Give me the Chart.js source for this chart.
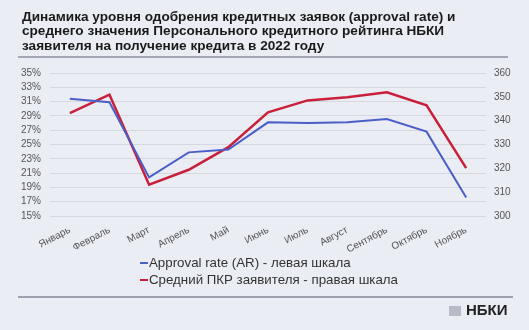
<!DOCTYPE html>
<html><head><meta charset="utf-8">
<script src="https://cdn.jsdelivr.net/npm/chart.js@4/dist/chart.umd.min.js"></script>
<style>
html,body{margin:0;padding:0;background:#ebedf5;}
#wrap{position:relative;width:529px;height:330px;overflow:hidden;background:#ebedf5;font-family:"Liberation Sans",Arial,sans-serif;}
#title{position:absolute;left:22px;top:10px;font-weight:bold;font-size:13.6px;line-height:14.3px;color:#1a1a1a;white-space:nowrap;}
#line1{position:absolute;left:18px;top:56px;width:490px;height:2px;background:#a3a7b3;}
#line2{position:absolute;left:18px;top:296px;width:495px;height:2px;background:#9da1ad;}
#c{position:absolute;left:0;top:0;}
.leg{position:absolute;left:140px;font-size:13.3px;color:#333;white-space:nowrap;}
.leg span{display:inline-block;width:8px;height:2px;vertical-align:middle;margin-right:1px;}
#logo{position:absolute;left:449px;top:301px;font-weight:bold;font-size:15px;color:#222;}
#logo i{display:inline-block;width:12px;height:10px;background:#b9bcc6;margin-right:5px;vertical-align:-1px;}
</style></head>
<body><div id="wrap">
<canvas id="c" width="529" height="330"></canvas>
<div id="title">Динамика уровня одобрения кредитных заявок (approval rate) и<br>среднего значения Персонального кредитного рейтинга НБКИ<br>заявителя на получение кредита в 2022 году</div>
<div id="line1"></div>
<div class="leg" style="top:255px"><span style="background:#4a5ec8"></span>Approval rate (AR) - левая шкала</div>
<div class="leg" style="top:272px"><span style="background:#c8203a"></span>Средний ПКР заявителя - правая шкала</div>
<div id="line2"></div>
<div id="logo"><i></i>НБКИ</div>
</div>
<script>
const months = ["Январь","Февраль","Март","Апрель","Май","Июнь","Июль","Август","Сентябрь","Октябрь","Ноябрь"];
const approvalRate = [31.4, 30.9, 20.4, 23.9, 24.3, 28.1, 28.0, 28.1, 28.55, 26.8, 17.6];
const avgScore = [343.2, 350.9, 313.1, 319.4, 328.9, 343.5, 348.5, 349.8, 351.9, 346.4, 320.1];
const leftTicks = {min:15, max:35, step:2};
const rightTicks = {min:300, max:360, step:10};

const tickFont = {family:"Liberation Sans", size:10};
new Chart(document.getElementById('c'), {
  type:'line',
  data:{labels:months, datasets:[
    {label:'Approval rate (AR) - левая шкала', data:approvalRate, yAxisID:'y', borderColor:'#4a5ec8', borderWidth:2, pointRadius:0, tension:0},
    {label:'Средний ПКР заявителя - правая шкала', data:avgScore, yAxisID:'y1', borderColor:'#c8203a', borderWidth:2.5, pointRadius:0, tension:0}
  ]},
  options:{
    responsive:false, animation:false,
    layout:{padding:{top:73, left:0, right:0, bottom:0}},
    plugins:{legend:{display:false}, tooltip:{enabled:false}},
    scales:{
      x:{offset:true, grid:{display:false}, border:{display:false},
         ticks:{font:tickFont, color:'#555', minRotation:28, maxRotation:28, padding:0, autoSkip:false},
         afterFit(s){ s.height = 114; }},
      y:{position:'left', min:leftTicks.min, max:leftTicks.max,
         ticks:{stepSize:leftTicks.step, font:tickFont, color:'#555', padding:9, autoSkip:false, callback:v=>v+'%'},
         grid:{color:'#d6d8df', drawTicks:false, lineWidth:1}, border:{display:false},
         afterFit(s){ s.width = 50; }},
      y1:{position:'right', min:rightTicks.min, max:rightTicks.max,
         ticks:{stepSize:rightTicks.step, font:tickFont, color:'#555', padding:8, autoSkip:false},
         grid:{display:false, drawTicks:false}, border:{display:false},
         afterFit(s){ s.width = 43; }}
    }
  }
});
</script>
</body></html>
